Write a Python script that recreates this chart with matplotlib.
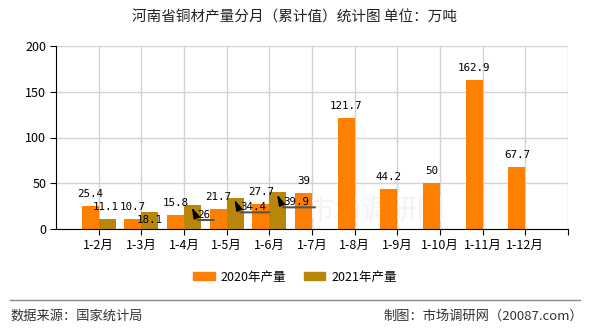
import matplotlib
matplotlib.use('Agg')
import matplotlib.pyplot as plt
from matplotlib.patches import Patch
from matplotlib.lines import Line2D
from matplotlib.transforms import offset_copy

plt.rcParams['font.family'] = ['Noto Sans CJK SC', 'DejaVu Sans']

months = ['1-2月', '1-3月', '1-4月', '1-5月', '1-6月', '1-7月',
          '1-8月', '1-9月', '1-10月', '1-11月', '1-12月']
output_2020 = [25.4, 10.7, 15.8, 21.7, 27.7, 39, 121.7, 44.2, 50, 162.9, 67.7]
output_2021 = [11.1, 18.1, 26, 34.4, 39.9]
labels_2020 = ['25.4', '10.7', '15.8', '21.7', '27.7', '39', '121.7', '44.2', '50', '162.9', '67.7']
labels_2021 = ['11.1', '18.1', '26', '34.4', '39.9']

c2020 = '#FF8000'
c2021 = '#B8860B'
num_font = 'DejaVu Sans Mono'
num_size = 7.8

fig = plt.figure(figsize=(5.9, 3.3), dpi=100)
ax = fig.add_axes([56 / 590, 1 - 229 / 330, 512 / 590, 183 / 330])

x = list(range(1, len(months) + 1))
w = 0.4
ax.bar([i - w / 2 for i in x], output_2020, width=w, color=c2020, zorder=3)
x21 = x[:len(output_2021)]
ax.bar([i + w / 2 for i in x21], output_2021, width=w, color=c2021, zorder=3)

ax.set_xlim(0, 12)
ax.set_ylim(0, 200)
ax.set_yticks([0, 50, 100, 150, 200])
ax.set_xticks(x + [12])
ax.set_xticklabels(months + [''])
ax.grid(True, color='#D3D3D3', lw=1, zorder=0)
for s in ['top', 'right']:
    ax.spines[s].set_visible(False)
for s in ['left', 'bottom']:
    ax.spines[s].set_color('black')
    ax.spines[s].set_zorder(4)
ax.tick_params(axis='both', length=4, color='black', labelsize=9, pad=3)

# watermark
ax.text(7.5, 20, '市场调研网', fontsize=20, color='#F6F2EE', ha='center', va='center', zorder=2)

# 2020 labels
for i, v, lab in zip(x, output_2020, labels_2020):
    ax.annotate(lab, xy=(i - w / 2, v), xytext=(0, 12), textcoords='offset pixels',
                ha='center', va='center', fontsize=num_size, family=num_font, zorder=6)

# 2021 labels: two plain, three with leader arrows
plain_dy = [12, -8]
plain_dx = [-2, 0]
for k in range(2):
    ax.annotate(labels_2021[k], xy=(x21[k] + w / 2, output_2021[k]),
                xytext=(plain_dx[k], plain_dy[k]), textcoords='offset pixels',
                ha='center', va='center', fontsize=num_size, family=num_font, zorder=6)

line_len = [16, 29, 32]
for k in range(2, len(output_2021)):
    tip = (x21[k] + 0.18, output_2021[k] - 2)
    ax.annotate(labels_2021[k], xy=tip, xytext=(6, -13), textcoords='offset pixels',
                ha='left', va='bottom', fontsize=num_size, family=num_font, zorder=6,
                arrowprops=dict(arrowstyle='-|>,head_length=0.7,head_width=0.2',
                                color='black', lw=1.2, shrinkA=0, shrinkB=0,
                                relpos=(0, 0), mutation_scale=9))
    L = line_len[k - 2]
    ax.annotate('', xy=tip, xycoords=offset_copy(ax.transData, fig=fig, x=6 + L, y=-13, units='dots'),
                xytext=tip, textcoords=offset_copy(ax.transData, fig=fig, x=6, y=-13, units='dots'),
                arrowprops=dict(arrowstyle='-', color='#555555', lw=1.5, shrinkA=0, shrinkB=0),
                zorder=5)

fig.text(0.5, 1 - 18 / 330, '河南省铜材产量分月（累计值）统计图 单位：万吨',
         ha='center', va='center', fontsize=10.5, color='#222222')

handles = [Patch(color=c2020, label='2020年产量'), Patch(color=c2021, label='2021年产量')]
fig.legend(handles=handles, loc='center', bbox_to_anchor=(0.5, 1 - 277 / 330), ncol=2,
           frameon=False, fontsize=9, handlelength=1.7, handleheight=0.6,
           handletextpad=0.5, columnspacing=1.4)

fig.add_artist(Line2D([10 / 590, 580 / 590], [1 - 300 / 330, 1 - 300 / 330],
                      color='#888888', lw=1))
fig.text(10 / 590, 1 - 316 / 330, '数据来源：国家统计局', ha='left', va='center',
         fontsize=9.5, color='#333333')
fig.text(583 / 590, 1 - 316 / 330, '制图：市场调研网（20087.com）', ha='right', va='center',
         fontsize=9.5, color='#333333')

fig.savefig('out.png', dpi=100)
